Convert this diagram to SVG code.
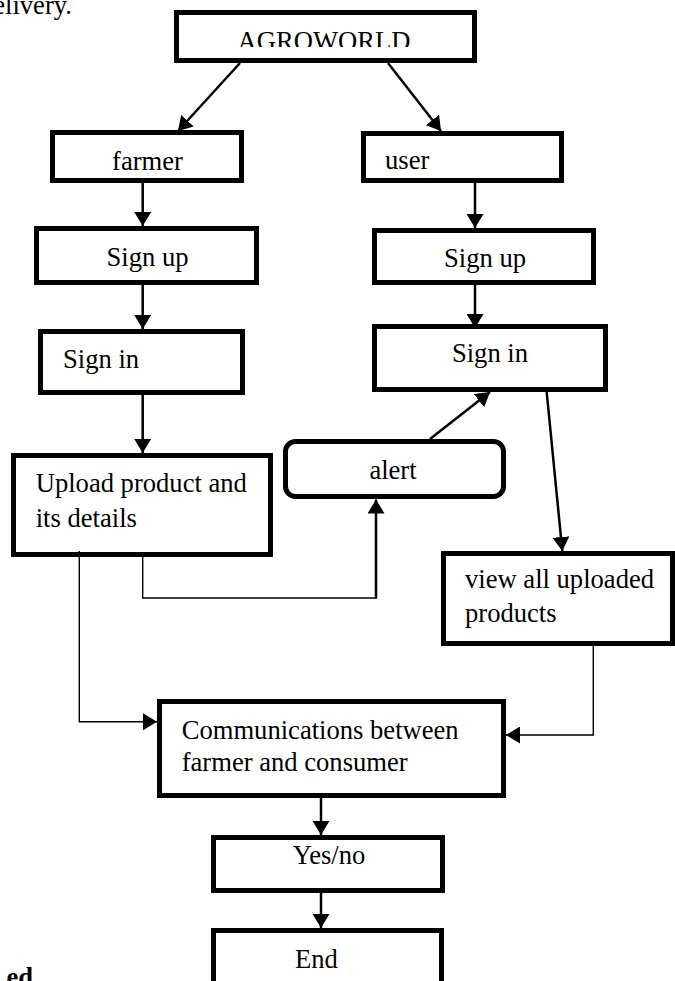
<svg xmlns="http://www.w3.org/2000/svg" width="675" height="981" viewBox="0 0 675 981">
<style>
.box{fill:#fff;stroke:#000;stroke-width:5}
.t{font-family:"Liberation Serif","Times New Roman",serif;font-size:26.6px;fill:#000}
.c{stroke:#000;stroke-width:2.5;fill:none}
.thin{stroke:#000;stroke-width:1.4;fill:none}
</style>
<defs>
<marker id="ah" markerUnits="userSpaceOnUse" markerWidth="15" markerHeight="17" refX="14" refY="8.5" orient="auto" viewBox="0 0 15 17">
<path d="M0,0 L14,8.5 L0,17 z" fill="#000"/>
</marker>
<clipPath id="agclip"><rect x="170" y="15" width="310" height="32"/></clipPath>
</defs>
<rect width="675" height="981" fill="#fff"/>
<text class="t" x="72" y="14" text-anchor="end">elivery.</text>
<text class="t" x="33" y="986" text-anchor="end" font-weight="bold">ed</text>
<g id="agroworld">
<rect class="box" x="176.5" y="12.5" width="298" height="48"/>
<text class="t" x="324" y="49.5" text-anchor="middle" clip-path="url(#agclip)">AGROWORLD</text>
</g>
<g id="farmer">
<rect class="box" x="52.5" y="132.5" width="189" height="48"/>
<text class="t" x="147.5" y="170" text-anchor="middle">farmer</text>
</g>
<g id="signup-farmer">
<rect class="box" x="36.5" y="228.5" width="220" height="54"/>
<text class="t" x="147.5" y="265.5" text-anchor="middle">Sign up</text>
</g>
<g id="signin-farmer">
<rect class="box" x="40.5" y="331.5" width="202" height="61"/>
<text class="t" x="63" y="368">Sign in</text>
</g>
<g id="user">
<rect class="box" x="363.5" y="133.5" width="198" height="47"/>
<text class="t" x="385" y="169">user</text>
</g>
<g id="signup-user">
<rect class="box" x="374.5" y="230.5" width="219" height="52"/>
<text class="t" x="485" y="267" text-anchor="middle">Sign up</text>
</g>
<g id="signin-user">
<rect class="box" x="374.5" y="326.5" width="231" height="63"/>
<text class="t" x="490" y="362" text-anchor="middle">Sign in</text>
</g>
<g id="upload">
<rect class="box" x="13.5" y="455.5" width="257" height="99"/>
<text class="t" x="35.7" y="491.7">Upload product and</text>
<text class="t" x="35.7" y="526.7">its details</text>
</g>
<g id="alert">
<rect class="box" x="285.5" y="441.5" width="218" height="55" rx="10" ry="10"/>
<text class="t" x="393" y="479" text-anchor="middle">alert</text>
</g>
<g id="view">
<rect class="box" x="443.5" y="553.5" width="229" height="90"/>
<text class="t" x="465" y="588.3">view all uploaded</text>
<text class="t" x="465" y="621.7">products</text>
</g>
<g id="communications">
<rect class="box" x="159.5" y="701.5" width="344" height="94"/>
<text class="t" x="181.7" y="739.3">Communications between</text>
<text class="t" x="181.7" y="771">farmer and consumer</text>
</g>
<g id="yesno">
<rect class="box" x="213.5" y="837.5" width="229" height="53"/>
<text class="t" x="329" y="864" text-anchor="middle">Yes/no</text>
</g>
<g id="end">
<rect class="box" x="213.5" y="930.5" width="228" height="70"/>
<text class="t" x="316.5" y="967.7" text-anchor="middle">End</text>
</g>
<g id="connectors">
<line class="c" x1="240" y1="63" x2="178" y2="131" marker-end="url(#ah)"/>
<line class="c" x1="388" y1="63" x2="441" y2="131" marker-end="url(#ah)"/>
<line class="c" x1="142.7" y1="183" x2="142.7" y2="226" marker-end="url(#ah)"/>
<line class="c" x1="142.7" y1="285" x2="142.7" y2="329" marker-end="url(#ah)"/>
<line class="c" x1="142.7" y1="395" x2="142.7" y2="453" marker-end="url(#ah)"/>
<line class="c" x1="475" y1="183" x2="475" y2="228" marker-end="url(#ah)"/>
<line class="c" x1="475" y1="285" x2="475" y2="328" marker-end="url(#ah)"/>
<line class="c" x1="430" y1="439" x2="490" y2="392" marker-end="url(#ah)"/>
<line class="c" x1="546.7" y1="392" x2="562.3" y2="551" marker-end="url(#ah)"/>
<polyline class="thin" points="142.7,557 142.7,598 376,598"/>
<line class="c" x1="376" y1="598.7" x2="376" y2="499.5" stroke-width="2.2" marker-end="url(#ah)"/>
<polyline class="thin" points="79.3,551 79.3,721.7 157,721.7" marker-end="url(#ah)"/>
<polyline class="thin" points="593.3,646 593.3,735 506,735" marker-end="url(#ah)"/>
<line class="c" x1="321" y1="798" x2="321" y2="835" marker-end="url(#ah)"/>
<line class="c" x1="321" y1="893" x2="321" y2="928" marker-end="url(#ah)"/>
</g>
</svg>
